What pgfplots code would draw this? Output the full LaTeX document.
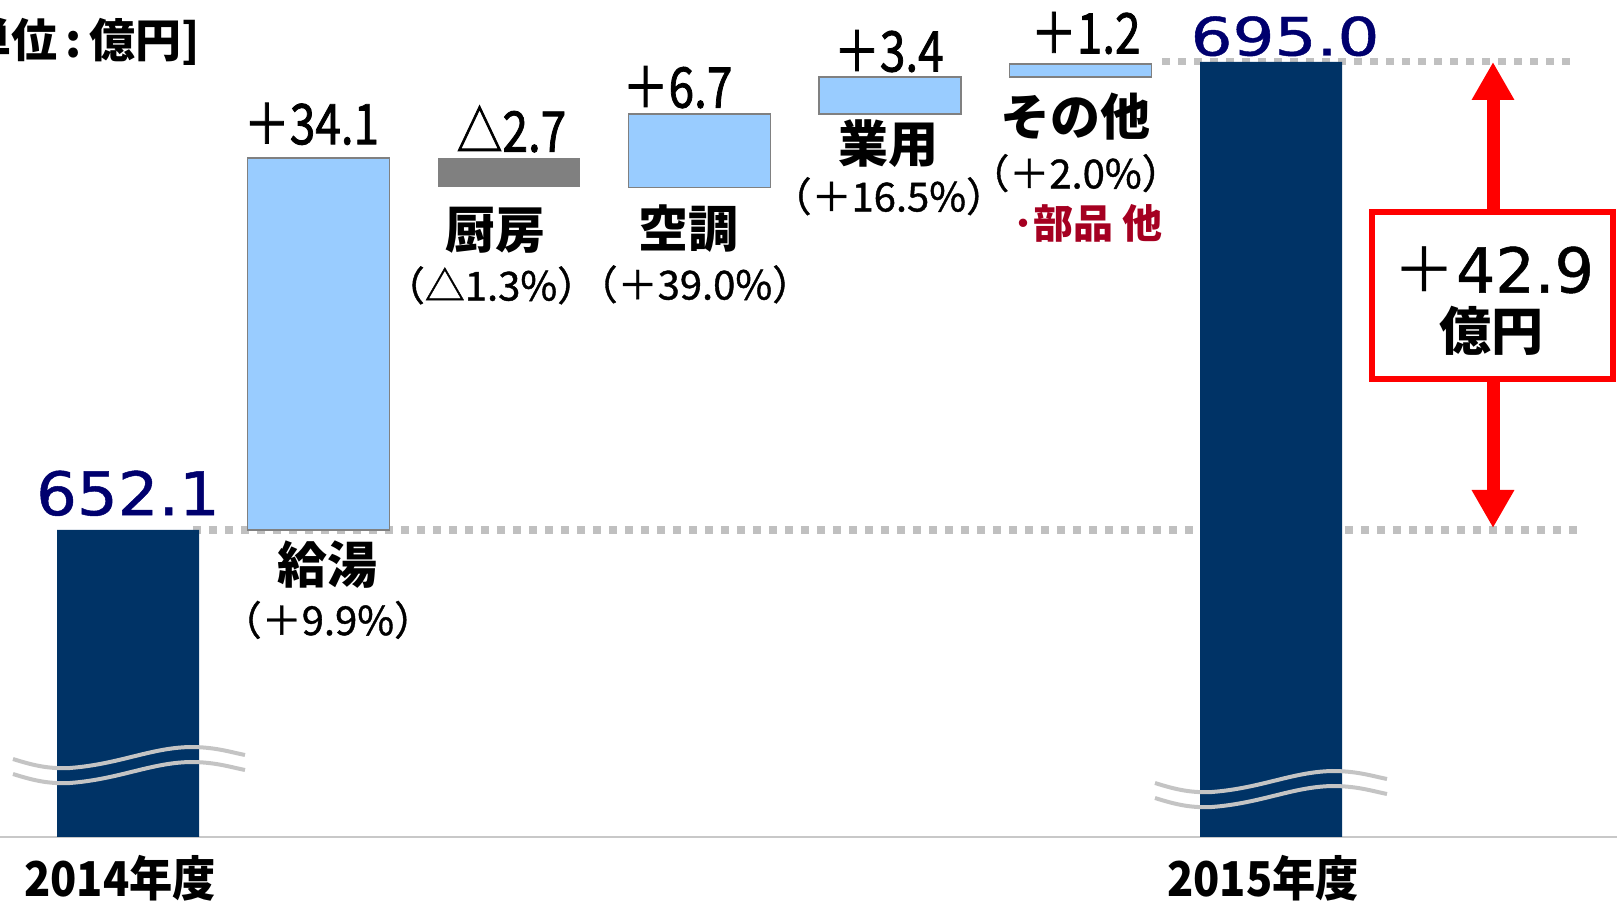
\documentclass[border=0pt]{standalone}
\usepackage{pgfplots}
\pgfplotsset{compat=1.18}
\usepackage{pgfplotstable}
\usepackage{fontspec}
\usepackage{graphicx}
\usetikzlibrary{arrows.meta}
\newfontfamily\jp{Noto Sans CJK JP}
\newfontfamily\jpm[FakeBold=1.6]{Noto Sans CJK JP}
\newfontfamily\jpp[FakeBold=1.0]{Noto Sans CJK JP}
\newfontfamily\dv[FakeBold=0.8]{DejaVu Sans}
\definecolor{navy}{RGB}{0,51,102}
\definecolor{lblue}{RGB}{153,204,255}
\definecolor{dgray}{RGB}{128,128,128}
\definecolor{dotgray}{RGB}{192,192,192}
\definecolor{numblue}{RGB}{0,0,110}
\definecolor{dred}{RGB}{165,0,33}
\definecolor{wavegray}{RGB}{196,196,196}
\definecolor{axgray}{RGB}{200,200,200}

% waterfall: base (invisible), increase, decrease, total
\pgfplotstableread{
x base inc dec total
0 0     0    0   652.1
1 652.1 34.1 0   0
2 683.5 0    2.7 0
3 683.5 6.7  0   0
4 690.2 3.4  0   0
5 693.6 1.2  0   0
6 0     0    0   695.0
}\wf

\newcommand{\dlt}[1]{\scalebox{0.82}[1]{#1}}
\newcommand{\yr}[1]{\scalebox{0.9}[1]{#1}}
\tikzset{
  dl/.style={font=\jpm\fontsize{28}{34}\selectfont, inner sep=0pt, anchor=center},
  cat/.style={font=\jp\bfseries\fontsize{25}{30}\selectfont, inner sep=0pt, anchor=center},
  pct/.style={font=\jpp\fontsize{20}{24}\selectfont, inner sep=0pt, anchor=center},
  big/.style={font=\dv\fontsize{30}{36}\selectfont, text=numblue, inner sep=0pt, anchor=center},
}

\begin{document}
\begin{tikzpicture}
\begin{axis}[
  at={(0pt,34pt)}, anchor=south west,
  scale only axis, width=808.5pt, height=418.5pt,
  xmin=-0.672, xmax=7.816, ymin=623.96, ymax=700.68,
  ybar stacked, bar width=71pt,
  clip mode=individual,
  hide y axis,
  axis x line*=bottom,
  axis line style={draw=axgray, line width=1pt, -},
  xtick={0,6}, xticklabels={\yr{2014年度},\yr{2015年度}},
  major tick length=0pt,
  xticklabel style={font=\jp\bfseries\fontsize{24}{28}\selectfont, anchor=center, yshift=-20.5pt, xshift=-4pt},
]
\addplot[draw=none, fill=none] table[x=x, y=base]{\wf};
\addplot[fill=lblue, draw=dgray, line width=0.8pt] table[x=x, y=inc]{\wf};
\addplot[fill=dgray, draw=none] table[x=x, y=dec]{\wf};
\addplot[fill=navy, draw=none] table[x=x, y=total]{\wf};

% dotted reference lines
\draw[dotgray, line width=3.6pt, dash pattern=on 3.8pt off 4.2pt] (axis cs:0.341,652.1) -- (axis cs:7.606,652.1);
\draw[dotgray, line width=3.6pt, dash pattern=on 3.8pt off 4.2pt] (axis cs:5.428,695.0) -- (axis cs:7.606,695.0);

% totals
\node[big, yshift=18.3pt] at (axis cs:0,652.1) {\scalebox{1.07}[1]{652.1}};
\node[big, yshift=12.8pt, xshift=7pt] at (axis cs:6,695.0) {\scalebox{1.1}[0.88]{695.0}};

% 給湯
\node[dl, yshift=17pt, xshift=-3.5pt] at (axis cs:1,686.2) {\dlt{＋34.1}};
\node[cat, yshift=-17.5pt, xshift=4.7pt] at (axis cs:1,652.1) {給湯};
\node[pct, yshift=-45pt, xshift=4.7pt] at (axis cs:1,652.1) {（＋9.9\%）};
% 厨房
\node[dl, yshift=14.5pt, xshift=1.2pt] at (axis cs:2,686.2) {\dlt{△2.7}};
\node[cat, yshift=-21.7pt, xshift=-7pt] at (axis cs:2,683.5) {厨房};
\node[pct, yshift=-49pt, xshift=-9pt] at (axis cs:2,683.5) {（△1.3\%）};
% 空調
\node[dl, yshift=13.5pt, xshift=-11pt] at (axis cs:3,690.2) {\dlt{＋6.7}};
\node[cat, yshift=-20.6pt, xshift=-5.3pt] at (axis cs:3,683.5) {空調};
\node[pct, yshift=-48.5pt, xshift=-2.3pt] at (axis cs:3,683.5) {（＋39.0\%）};
% 業用
\node[dl, yshift=13pt, xshift=-0.6pt] at (axis cs:4,693.6) {\dlt{＋3.4}};
\node[cat, yshift=-14.5pt, xshift=-0.6pt] at (axis cs:4,690.2) {業用};
\node[pct, yshift=-41pt, xshift=-0.6pt] at (axis cs:4,690.2) {（＋16.5\%）};
% その他
\node[dl, yshift=15.5pt, xshift=2.6pt] at (axis cs:5,694.8) {\dlt{＋1.2}};
\node[cat, yshift=-19.6pt, xshift=-2.5pt] at (axis cs:5,693.6) {その他};
\node[pct, yshift=-48pt, xshift=-2.5pt] at (axis cs:5,693.6) {（＋2.0\%）};
\node[font=\jp\bfseries\fontsize{20}{24}\selectfont, text=dred, inner sep=0pt, yshift=-73pt, xshift=3.6pt] at (axis cs:5,693.6) {･部品 他};
\end{axis}

% annotations in reference pixel coordinates (y downwards)
\begin{scope}[x=0.5pt, y=-0.5pt, shift={(0pt,452.5pt)}]
  % axis break waves
  \foreach \sx/\sy in {0/0, 1142/24}{
    \begin{scope}[shift={(\sx,\sy)}]
      \foreach \dy in {0,15}{
        \draw[wavegray, line width=2pt] (13,759+\dy) .. controls (35,766+\dy) and (50,769+\dy) .. (70,768+\dy)
          .. controls (120,764+\dy) and (150,748+\dy) .. (190,747+\dy)
          .. controls (215,747+\dy) and (230,752+\dy) .. (245,755+\dy);
      }
    \end{scope}
  }
  % difference arrow and box
  \draw[red, line width=6.5pt, {Triangle[width=20pt,length=19pt]}-{Triangle[width=20pt,length=19pt]}] (1493,62) -- (1493,528);
  \draw[red, line width=2.8pt, fill=white] (1372,212) rectangle (1613,379);
  \node[inner sep=0pt] at (1494,270) {{\jp\fontsize{31}{36}\selectfont ＋}{\dv\fontsize{31}{36}\selectfont 42.9}};
  \node[inner sep=0pt, font=\jp\bfseries\fontsize{26}{30}\selectfont] at (1491,331) {億円};
  % unit
  \node[anchor=east, inner sep=0pt, font=\jp\bfseries\fontsize{23}{28}\selectfont] at (200,42) {[単位\,:\,億円]};
\end{scope}

\pgfresetboundingbox
\path[use as bounding box] (0,0) rectangle (808.5pt,452.5pt);
\end{tikzpicture}
\end{document}
